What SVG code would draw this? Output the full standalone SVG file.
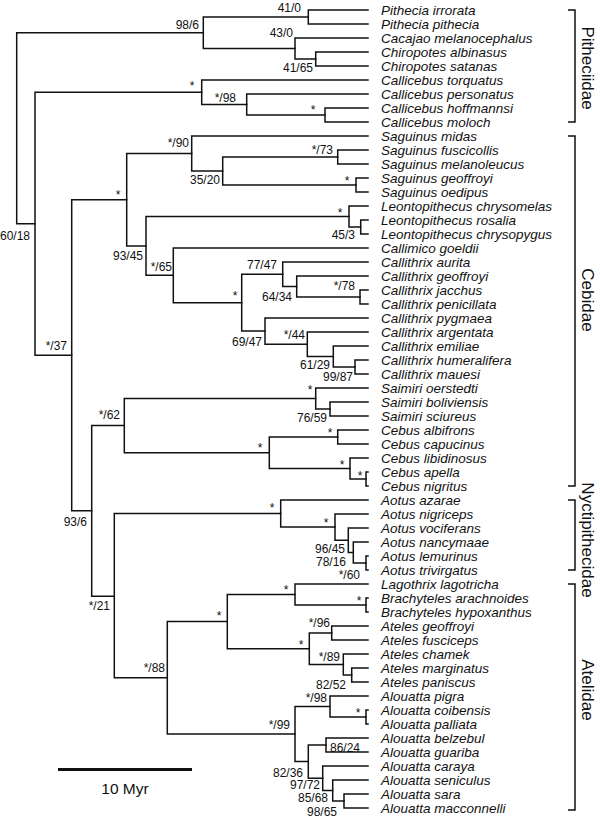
<svg xmlns="http://www.w3.org/2000/svg" width="600" height="821" viewBox="0 0 600 821">
<style>
.e{fill:none;stroke:#111;stroke-width:1.5;stroke-linecap:square}
.t{font-family:"Liberation Sans",Arial,sans-serif;font-style:italic;font-size:13.5px;fill:#111}
.s{font-family:"Liberation Sans",Arial,sans-serif;font-size:12px;fill:#111;text-anchor:end}
.a{font-family:"Liberation Sans",Arial,sans-serif;font-size:12px;fill:#111;text-anchor:middle}
.f{font-family:"Liberation Sans",Arial,sans-serif;font-size:17px;fill:#111;text-anchor:middle}
.b{fill:none;stroke:#111;stroke-width:1.5}
</style>
<rect width="600" height="821" fill="#fff"/>
<g id="connectors">
<path class="e" d="M203.3 32.75H16.7V223.8H35"/>
<path class="e" d="M308.3 17H203.3V48.5H295"/>
<path class="e" d="M368 10H308.3V24H368"/>
<path class="e" d="M368 38H295V59H315.7"/>
<path class="e" d="M368 52H315.7V66H368"/>
<path class="e" d="M201.7 92.25H35V355.3H71.7"/>
<path class="e" d="M368 80H201.7V104.5H246.7"/>
<path class="e" d="M368 94H246.7V115H325"/>
<path class="e" d="M368 108H325V122H368"/>
<path class="e" d="M126.7 199.7H71.7V510.8H91.7"/>
<path class="e" d="M191.7 153.5H126.7V245.9H146"/>
<path class="e" d="M368 136H191.7V171H222.7"/>
<path class="e" d="M337.7 157H222.7V185H356"/>
<path class="e" d="M368 150H337.7V164H368"/>
<path class="e" d="M368 178H356V192H368"/>
<path class="e" d="M349 216.5H146V275.3H173.3"/>
<path class="e" d="M368 206H349V227H360.7"/>
<path class="e" d="M368 220H360.7V234H368"/>
<path class="e" d="M368 248H173.3V302.7H241.7"/>
<path class="e" d="M282.7 274.25H241.7V331.1H265"/>
<path class="e" d="M368 262H282.7V286.5H296.7"/>
<path class="e" d="M368 276H296.7V297H360"/>
<path class="e" d="M368 290H360V304H368"/>
<path class="e" d="M368 318H265V344.25H307.3"/>
<path class="e" d="M368 332H307.3V356.5H333.3"/>
<path class="e" d="M368 346H333.3V367H355"/>
<path class="e" d="M368 360H355V374H368"/>
<path class="e" d="M124.3 425.6H91.7V596.3H114.3"/>
<path class="e" d="M315.7 398.5H124.3V452.75H269.3"/>
<path class="e" d="M368 388H315.7V409H330"/>
<path class="e" d="M368 402H330V416H368"/>
<path class="e" d="M337.7 437H269.3V468.5H350"/>
<path class="e" d="M368 430H337.7V444H368"/>
<path class="e" d="M368 458H350V479H366"/>
<path class="e" d="M368 472H366V486H368"/>
<path class="e" d="M280.7 513.6H114.3V677.8H167.3"/>
<path class="e" d="M368 500H280.7V527.1H335"/>
<path class="e" d="M368 514H335V540.25H348.3"/>
<path class="e" d="M368 528H348.3V552.5H353.3"/>
<path class="e" d="M368 542H353.3V563H366"/>
<path class="e" d="M368 556H366V570H368"/>
<path class="e" d="M227.3 621.6H167.3V734.06H295"/>
<path class="e" d="M295 594.5H227.3V648.75H309.3"/>
<path class="e" d="M368 584H295V605H366"/>
<path class="e" d="M368 598H366V612H368"/>
<path class="e" d="M331.7 633H309.3V664.5H343.3"/>
<path class="e" d="M368 626H331.7V640H368"/>
<path class="e" d="M368 654H343.3V675H351.7"/>
<path class="e" d="M368 668H351.7V682H368"/>
<path class="e" d="M330 706.5H295V761.6H308.3"/>
<path class="e" d="M368 696H330V717H366"/>
<path class="e" d="M368 710H366V724H368"/>
<path class="e" d="M326 745H308.3V778.25H322.7"/>
<path class="e" d="M368 738H326V752H368"/>
<path class="e" d="M368 766H322.7V790.5H332.7"/>
<path class="e" d="M368 780H332.7V801H344"/>
<path class="e" d="M368 794H344V808H368"/>
</g>
<g id="support">
<g id="n1"><text class="s" x="301" y="11.5">41/0</text></g>
<g id="n2"><text class="s" x="199" y="29">98/6</text></g>
<g id="n3"><text class="s" x="293" y="37">43/0</text></g>
<g id="n4"><text class="s" x="313" y="72">41/65</text></g>
<g id="n5"><text class="a" x="192" y="90">*</text></g>
<g id="n6"><text class="s" x="236" y="102">*/98</text></g>
<g id="n7"><text class="a" x="313" y="114">*</text></g>
<g id="n8"><text class="s" x="189" y="147">*/90</text></g>
<g id="n9"><text class="s" x="333" y="154">*/73</text></g>
<g id="n10"><text class="s" x="220" y="184">35/20</text></g>
<g id="n11"><text class="a" x="347" y="185">*</text></g>
<g id="n12"><text class="a" x="340" y="217">*</text></g>
<g id="n13"><text class="s" x="355" y="239">45/3</text></g>
<g id="n14"><text class="a" x="118" y="199">*</text></g>
<g id="n15"><text class="s" x="143" y="260">93/45</text></g>
<g id="n16"><text class="s" x="172" y="271">*/65</text></g>
<g id="n17"><text class="s" x="277" y="269">77/47</text></g>
<g id="n18"><text class="s" x="292" y="301">64/34</text></g>
<g id="n19"><text class="s" x="355" y="290">*/78</text></g>
<g id="n20"><text class="a" x="235" y="300">*</text></g>
<g id="n21"><text class="s" x="262" y="346">69/47</text></g>
<g id="n22"><text class="s" x="305" y="339">*/44</text></g>
<g id="n23"><text class="s" x="330" y="369">61/29</text></g>
<g id="n24"><text class="s" x="353" y="381">99/87</text></g>
<g id="n25"><text class="a" x="310" y="394">*</text></g>
<g id="n26"><text class="s" x="327" y="422">76/59</text></g>
<g id="n27"><text class="a" x="260" y="452">*</text></g>
<g id="n28"><text class="a" x="330" y="437">*</text></g>
<g id="n29"><text class="a" x="342" y="469">*</text></g>
<g id="n30"><text class="a" x="360" y="480">*</text></g>
<g id="n31"><text class="s" x="120" y="419">*/62</text></g>
<g id="n32"><text class="s" x="87" y="526">93/6</text></g>
<g id="n33"><text class="s" x="110" y="610">*/21</text></g>
<g id="n34"><text class="s" x="67" y="350">*/37</text></g>
<g id="n35"><text class="s" x="30" y="240">60/18</text></g>
<g id="n36"><text class="a" x="272" y="512">*</text></g>
<g id="n37"><text class="a" x="326" y="527">*</text></g>
<g id="n38"><text class="s" x="345" y="553">96/45</text></g>
<g id="n39"><text class="s" x="346" y="566">78/16</text></g>
<g id="n40"><text class="s" x="360" y="579">*/60</text></g>
<g id="n41"><text class="a" x="286" y="594">*</text></g>
<g id="n42"><text class="a" x="359" y="605">*</text></g>
<g id="n43"><text class="a" x="219" y="620">*</text></g>
<g id="n44"><text class="s" x="330" y="627">*/96</text></g>
<g id="n45"><text class="a" x="301" y="649">*</text></g>
<g id="n46"><text class="s" x="340" y="661">*/89</text></g>
<g id="n47"><text class="s" x="346" y="688.5">82/52</text></g>
<g id="n48"><text class="s" x="165" y="672">*/88</text></g>
<g id="n49"><text class="s" x="327" y="702">*/98</text></g>
<g id="n50"><text class="a" x="358" y="717">*</text></g>
<g id="n51"><text class="s" x="290" y="729">*/99</text></g>
<g id="n52"><text class="s" x="360" y="752">86/24</text></g>
<g id="n53"><text class="s" x="303" y="777">82/36</text></g>
<g id="n54"><text class="s" x="320" y="789">97/72</text></g>
<g id="n55"><text class="s" x="328" y="802">85/68</text></g>
<g id="n56"><text class="s" x="337" y="816">98/65</text></g>
</g>
<g id="taxa">
<g id="t0"><text class="t" x="381" y="14.5">Pithecia irrorata</text></g>
<g id="t1"><text class="t" x="381" y="28.5">Pithecia pithecia</text></g>
<g id="t2"><text class="t" x="381" y="42.5">Cacajao melanocephalus</text></g>
<g id="t3"><text class="t" x="381" y="56.5">Chiropotes albinasus</text></g>
<g id="t4"><text class="t" x="381" y="70.5">Chiropotes satanas</text></g>
<g id="t5"><text class="t" x="381" y="84.5">Callicebus torquatus</text></g>
<g id="t6"><text class="t" x="381" y="98.5">Callicebus personatus</text></g>
<g id="t7"><text class="t" x="381" y="112.5">Callicebus hoffmannsi</text></g>
<g id="t8"><text class="t" x="381" y="126.5">Callicebus moloch</text></g>
<g id="t9"><text class="t" x="381" y="140.5">Saguinus midas</text></g>
<g id="t10"><text class="t" x="381" y="154.5">Saguinus fuscicollis</text></g>
<g id="t11"><text class="t" x="381" y="168.5">Saguinus melanoleucus</text></g>
<g id="t12"><text class="t" x="381" y="182.5">Saguinus geoffroyi</text></g>
<g id="t13"><text class="t" x="381" y="196.5">Saguinus oedipus</text></g>
<g id="t14"><text class="t" x="381" y="210.5">Leontopithecus chrysomelas</text></g>
<g id="t15"><text class="t" x="381" y="224.5">Leontopithecus rosalia</text></g>
<g id="t16"><text class="t" x="381" y="238.5">Leontopithecus chrysopygus</text></g>
<g id="t17"><text class="t" x="381" y="252.5">Callimico goeldii</text></g>
<g id="t18"><text class="t" x="381" y="266.5">Callithrix aurita</text></g>
<g id="t19"><text class="t" x="381" y="280.5">Callithrix geoffroyi</text></g>
<g id="t20"><text class="t" x="381" y="294.5">Callithrix jacchus</text></g>
<g id="t21"><text class="t" x="381" y="308.5">Callithrix penicillata</text></g>
<g id="t22"><text class="t" x="381" y="322.5">Callithrix pygmaea</text></g>
<g id="t23"><text class="t" x="381" y="336.5">Callithrix argentata</text></g>
<g id="t24"><text class="t" x="381" y="350.5">Callithrix emiliae</text></g>
<g id="t25"><text class="t" x="381" y="364.5">Callithrix humeralifera</text></g>
<g id="t26"><text class="t" x="381" y="378.5">Callithrix mauesi</text></g>
<g id="t27"><text class="t" x="381" y="392.5">Saimiri oerstedti</text></g>
<g id="t28"><text class="t" x="381" y="406.5">Saimiri boliviensis</text></g>
<g id="t29"><text class="t" x="381" y="420.5">Saimiri sciureus</text></g>
<g id="t30"><text class="t" x="381" y="434.5">Cebus albifrons</text></g>
<g id="t31"><text class="t" x="381" y="448.5">Cebus capucinus</text></g>
<g id="t32"><text class="t" x="381" y="462.5">Cebus libidinosus</text></g>
<g id="t33"><text class="t" x="381" y="476.5">Cebus apella</text></g>
<g id="t34"><text class="t" x="381" y="490.5">Cebus nigritus</text></g>
<g id="t35"><text class="t" x="381" y="504.5">Aotus azarae</text></g>
<g id="t36"><text class="t" x="381" y="518.5">Aotus nigriceps</text></g>
<g id="t37"><text class="t" x="381" y="532.5">Aotus vociferans</text></g>
<g id="t38"><text class="t" x="381" y="546.5">Aotus nancymaae</text></g>
<g id="t39"><text class="t" x="381" y="560.5">Aotus lemurinus</text></g>
<g id="t40"><text class="t" x="381" y="574.5">Aotus trivirgatus</text></g>
<g id="t41"><text class="t" x="381" y="588.5">Lagothrix lagotricha</text></g>
<g id="t42"><text class="t" x="381" y="602.5">Brachyteles arachnoides</text></g>
<g id="t43"><text class="t" x="381" y="616.5">Brachyteles hypoxanthus</text></g>
<g id="t44"><text class="t" x="381" y="630.5">Ateles geoffroyi</text></g>
<g id="t45"><text class="t" x="381" y="644.5">Ateles fusciceps</text></g>
<g id="t46"><text class="t" x="381" y="658.5">Ateles chamek</text></g>
<g id="t47"><text class="t" x="381" y="672.5">Ateles marginatus</text></g>
<g id="t48"><text class="t" x="381" y="686.5">Ateles paniscus</text></g>
<g id="t49"><text class="t" x="381" y="700.5">Alouatta pigra</text></g>
<g id="t50"><text class="t" x="381" y="714.5">Alouatta coibensis</text></g>
<g id="t51"><text class="t" x="381" y="728.5">Alouatta palliata</text></g>
<g id="t52"><text class="t" x="381" y="742.5">Alouatta belzebul</text></g>
<g id="t53"><text class="t" x="381" y="756.5">Alouatta guariba</text></g>
<g id="t54"><text class="t" x="381" y="770.5">Alouatta caraya</text></g>
<g id="t55"><text class="t" x="381" y="784.5">Alouatta seniculus</text></g>
<g id="t56"><text class="t" x="381" y="798.5">Alouatta sara</text></g>
<g id="t57"><text class="t" x="381" y="812.5">Alouatta macconnelli</text></g>
</g>
<g id="families">
<g id="fam-pitheciidae"><path class="b" d="M568 10H575V122H568"/><text class="f" transform="translate(582 68) rotate(90)">Pitheciidae</text></g>
<g id="fam-cebidae"><path class="b" d="M568 136H575V486H568"/><text class="f" transform="translate(582 300) rotate(90)">Cebidae</text></g>
<g id="fam-nyctipithecidae"><path class="b" d="M568 500H575V570H568"/><text class="f" transform="translate(582 540) rotate(90)">Nyctipithecidae</text></g>
<g id="fam-atelidae"><path class="b" d="M568 584H575V810H568"/><text class="f" transform="translate(582 690) rotate(90)">Atelidae</text></g>
</g>
<g id="scale">
<line x1="58" y1="769.5" x2="192" y2="769.5" stroke="#111" stroke-width="3"/>
<text x="125" y="793.5" font-family="'Liberation Sans',Arial,sans-serif" font-size="15.5" text-anchor="middle" fill="#111">10 Myr</text>
</g>
</svg>
